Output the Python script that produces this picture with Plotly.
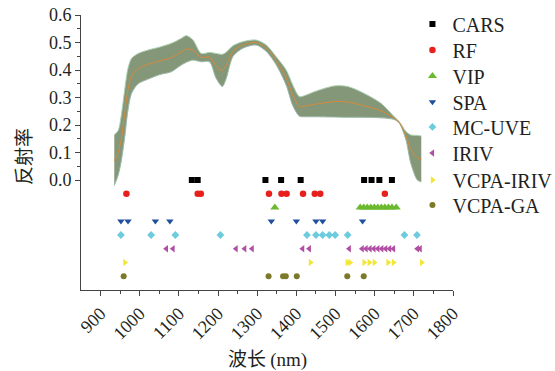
import plotly.graph_objects as go

# ---------------- spectra band ----------------
wavelength = [935, 945, 953, 962, 970, 979, 996, 1020, 1050, 1081, 1106, 1119, 1136, 1157,
              1178, 1195, 1211, 1221, 1238, 1263, 1297, 1323, 1348, 1374, 1391, 1408, 1425,
              1446, 1497, 1531, 1573, 1616, 1650, 1663, 1680, 1692, 1709, 1719]
upper = [0.164, 0.18, 0.236, 0.333, 0.406, 0.442, 0.46, 0.472, 0.483, 0.497, 0.515, 0.525, 0.509,
         0.46, 0.464, 0.46, 0.457, 0.465, 0.488, 0.503, 0.509, 0.491, 0.449, 0.40, 0.345, 0.303,
         0.309, 0.321, 0.342, 0.34, 0.315, 0.279, 0.23, 0.212, 0.176, 0.164, 0.162, 0.16]
mid = [0.07, 0.10, 0.15, 0.245, 0.33, 0.378, 0.405, 0.42, 0.433, 0.445, 0.466, 0.476, 0.472,
       0.445, 0.447, 0.415, 0.398, 0.417, 0.468, 0.491, 0.50, 0.48, 0.435, 0.372, 0.307, 0.267,
       0.27, 0.275, 0.285, 0.284, 0.27, 0.252, 0.225, 0.209, 0.16, 0.113, 0.08, 0.077]
lower = [-0.02, 0.018, 0.07, 0.16, 0.255, 0.315, 0.35, 0.366, 0.383, 0.394, 0.418, 0.428, 0.436,
         0.43, 0.43, 0.37, 0.34, 0.37, 0.449, 0.479, 0.491, 0.468, 0.42, 0.345, 0.27, 0.232,
         0.23, 0.23, 0.229, 0.228, 0.228, 0.226, 0.22, 0.206, 0.145, 0.062, 0.0, -0.006]

# ---------------- selected wavelengths per method ----------------
methods = ["CARS", "RF", "VIP", "SPA", "MC-UVE", "IRIV", "VCPA-IRIV", "VCPA-GA"]
row_level = [0.0, -0.05, -0.10, -0.15, -0.20, -0.25, -0.30, -0.35]
cars_wl = [1133, 1148, 1321, 1361, 1411, 1573, 1592, 1612, 1644]
rf_wl = [966, 1148, 1156, 1330, 1362, 1375, 1417, 1447, 1461, 1626]
vip_wl = [1345, 1563, 1572, 1581, 1590, 1599, 1608, 1617, 1626, 1635, 1644, 1655]
spa_wl = [952, 970, 1040, 1077, 1336, 1400, 1450, 1467, 1569]
mcuve_wl = [952, 1029, 1091, 1206, 1427, 1450, 1467, 1484, 1499, 1531, 1676, 1708]
iriv_wl = [1068, 1085, 1246, 1268, 1287, 1416, 1433, 1535, 1568, 1578, 1588, 1598, 1608,
           1618, 1628, 1638, 1648, 1709, 1716]
vcpa_iriv_wl = [962, 1436, 1530, 1537, 1573, 1586, 1599, 1634, 1648, 1720]
vcpa_ga_wl = [959, 1329, 1366, 1373, 1401, 1530, 1572]
selections = [cars_wl, rf_wl, vip_wl, spa_wl, mcuve_wl, iriv_wl, vcpa_iriv_wl, vcpa_ga_wl]

symbols = ["square", "circle", "triangle-up", "triangle-down", "diamond",
           "triangle-left", "triangle-right", "circle"]
colors = ["#000000", "#e8201c", "#6bb92f", "#1f4f9e", "#6ccbdc", "#b04fa3", "#f3e636", "#7c7a2a"]
sizes = [6, 6.5, 8, 6.5, 6, 6.5, 6.5, 6]

x_ticks = [900, 1000, 1100, 1200, 1300, 1400, 1500, 1600, 1700, 1800]
x_minor = [950, 1050, 1150, 1250, 1350, 1450, 1550, 1650, 1750]
y_ticks = [0.0, 0.1, 0.2, 0.3, 0.4, 0.5, 0.6]
y_minor = [0.05, 0.15, 0.25, 0.35, 0.45, 0.55]

# vertical placement (paper fraction) of each legend entry
legend_y = [0.967, 0.873, 0.778, 0.684, 0.593, 0.498, 0.400, 0.309]

SERIF = "Liberation Serif, Times New Roman, serif"
CJK = "Noto Sans CJK SC, sans-serif"
TEXT = "#231f20"

fig = go.Figure()

# band of spectra
fig.add_trace(go.Scatter(x=wavelength, y=lower, mode="lines",
                         line=dict(color="#9bb8a8", width=1, shape="spline", smoothing=0.8),
                         showlegend=False, hoverinfo="skip"))
fig.add_trace(go.Scatter(x=wavelength, y=upper, mode="lines", fill="tonexty",
                         fillcolor="rgba(122,142,108,0.92)",
                         line=dict(color="#a9cfae", width=1, shape="spline", smoothing=0.8),
                         showlegend=False, hoverinfo="skip"))
fig.add_trace(go.Scatter(x=wavelength, y=mid, mode="lines",
                         line=dict(color="#d98a3a", width=1, shape="spline", smoothing=0.8),
                         showlegend=False, hoverinfo="skip"))

legends = {}
for i, (name, wl, lvl, sym, col, sz) in enumerate(
        zip(methods, selections, row_level, symbols, colors, sizes)):
    key = "legend" if i == 0 else "legend%d" % (i + 1)
    fig.add_trace(go.Scatter(x=wl, y=[lvl] * len(wl), mode="markers", name=name,
                             legend=key,
                             marker=dict(symbol=sym, color=col, size=sz, line=dict(width=0))))
    legends[key] = dict(x=0.891, xanchor="left", y=legend_y[i], yanchor="middle",
                        bgcolor="rgba(0,0,0,0)", borderwidth=0,
                        font=dict(family=SERIF, size=20, color=TEXT), itemwidth=30)

fig.update_layout(
    width=555, height=371,
    margin=dict(l=81, r=102, t=15, b=81, autoexpand=False),
    paper_bgcolor="white", plot_bgcolor="white",
    font=dict(family=SERIF, size=18, color=TEXT),
    showlegend=True,
    xaxis=dict(range=[850, 1800], showgrid=False, zeroline=False, showline=True,
               linecolor="#444", linewidth=1, ticks="outside", ticklen=5, tickcolor="#444",
               tickvals=x_ticks, tickangle=-45, automargin=False,
               tickfont=dict(family=SERIF, size=18),
               minor=dict(tickvals=x_minor, ticks="outside", ticklen=3, tickcolor="#444")),
    yaxis=dict(range=[-0.4, 0.6], showgrid=False, zeroline=False, showline=True,
               linecolor="#444", linewidth=1, ticks="outside", ticklen=5, tickcolor="#444",
               tickvals=y_ticks, ticktext=["%.1f" % v for v in y_ticks], automargin=False,
               tickfont=dict(family=SERIF, size=18),
               minor=dict(tickvals=y_minor, ticks="outside", ticklen=3, tickcolor="#444")),
    annotations=[
        dict(text="波长 <span style='font-family:Liberation Serif'>(nm)</span>",
             xref="paper", yref="paper", x=0.5, y=-0.245,
             xanchor="center", yanchor="middle", showarrow=False,
             font=dict(family=CJK, size=19, color=TEXT)),
        dict(text="反射率", xref="paper", yref="paper", x=-0.159, y=0.487,
             xanchor="center", yanchor="middle", textangle=-90, showarrow=False,
             font=dict(family=CJK, size=19, color=TEXT)),
    ],
)
fig.update_layout(**legends)

fig.write_html("out.html")
